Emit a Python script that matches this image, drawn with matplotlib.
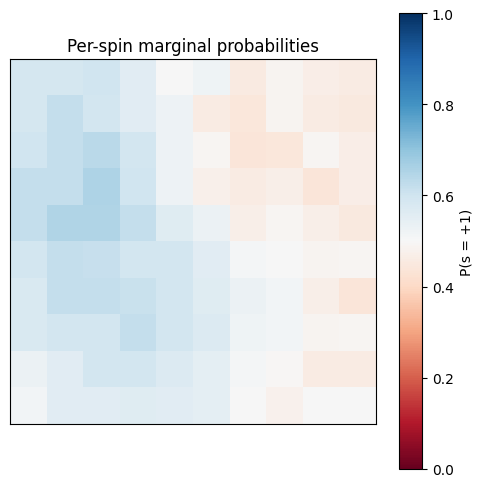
import numpy as np
import matplotlib
matplotlib.use("Agg")
import matplotlib.pyplot as plt

# marginal P(s=+1) per spin, 10x10 lattice (row 0 = top)
row0 = [0.587, 0.587, 0.600, 0.555, 0.500, 0.520, 0.457, 0.485, 0.465, 0.460]
row1 = [0.587, 0.620, 0.590, 0.555, 0.525, 0.460, 0.445, 0.485, 0.460, 0.450]
row2 = [0.600, 0.620, 0.635, 0.590, 0.525, 0.490, 0.440, 0.445, 0.490, 0.465]
row3 = [0.620, 0.620, 0.655, 0.600, 0.525, 0.475, 0.460, 0.470, 0.440, 0.465]
row4 = [0.620, 0.650, 0.650, 0.620, 0.560, 0.530, 0.470, 0.490, 0.470, 0.450]
row5 = [0.590, 0.620, 0.615, 0.590, 0.590, 0.555, 0.510, 0.500, 0.485, 0.490]
row6 = [0.575, 0.620, 0.620, 0.610, 0.590, 0.560, 0.530, 0.515, 0.470, 0.440]
row7 = [0.575, 0.590, 0.590, 0.620, 0.590, 0.570, 0.520, 0.515, 0.485, 0.490]
row8 = [0.530, 0.555, 0.590, 0.590, 0.570, 0.550, 0.510, 0.495, 0.460, 0.460]
row9 = [0.515, 0.555, 0.555, 0.560, 0.555, 0.550, 0.500, 0.480, 0.500, 0.500]

probs = np.array([row0, row1, row2, row3, row4, row5, row6, row7, row8, row9])

W, H = 483, 489
fig = plt.figure(figsize=(W / 100, H / 100), dpi=100)
ax = fig.add_axes([10 / W, 1 - 425 / H, 366 / W, 365 / H])
cax = fig.add_axes([399 / W, 1 - 470 / H, 23 / W, 456 / H])

im = ax.imshow(probs, cmap="RdBu", vmin=0, vmax=1, aspect="auto")
ax.set_xticks([])
ax.set_yticks([])
ax.set_title("Per-spin marginal probabilities")

cb = fig.colorbar(im, cax=cax)
cb.set_label("P(s = +1)")

fig.savefig("out.png", dpi=100)
